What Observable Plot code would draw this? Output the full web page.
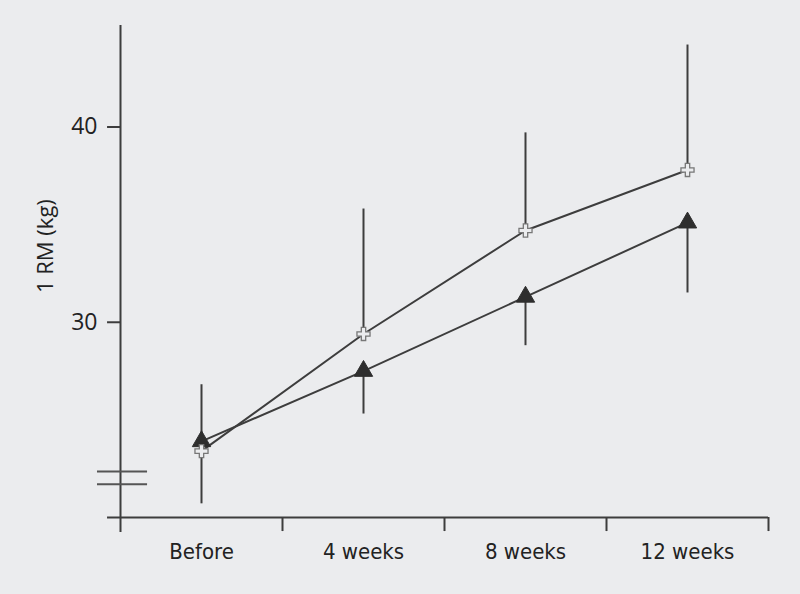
<!DOCTYPE html>
<html>
<head>
<meta charset="utf-8">
<script src="https://cdn.jsdelivr.net/npm/d3@7"></script>
<script src="https://cdn.jsdelivr.net/npm/@observablehq/plot@0.6"></script>
<style>
  html, body { margin: 0; padding: 0; background: #ebecee; }
  #chart svg { display: block; }
  .xlab text { font-stretch: condensed; }
</style>
</head>
<body>
<div id="chart"></div>
<script>
const categories = ["Before", "4 weeks", "8 weeks", "12 weeks"];
const crossMean = [23.4, 29.4, 34.7, 37.8];
const crossUpper = [26.8, 35.8, 39.7, 44.2];
const triMean = [23.9, 27.5, 31.3, 35.1];
const triLower = [20.7, 25.3, 28.8, 31.5];
const yTicks = [30, 40];

const cross = categories.map((c, i) => ({x: i + 0.5, y: crossMean[i], e: crossUpper[i]}));
const tri = categories.map((c, i) => ({x: i + 0.5, y: triMean[i], e: triLower[i]}));
const labels = categories.map((c, i) => ({x: i + 0.5, label: c}));
const bounds = d3.range(categories.length + 1);

const ink = "#3d3d3d";
const chart = Plot.plot({
  width: 800,
  height: 594,
  marginLeft: 120,
  marginRight: 32,
  marginTop: 25,
  marginBottom: 77,
  style: {background: "#ebecee", overflow: "visible"},
  x: {type: "linear", domain: [0, 4], axis: null},
  y: {type: "linear", domain: [20, 45.2], axis: null},
  marks: [
    // axes
    Plot.ruleX([0], {x: d => d, y1: 19.23, y2: 45.2, stroke: ink, strokeWidth: 2}),
    Plot.ruleY([20], {y: d => d, x1: -0.08, x2: 4, stroke: ink, strokeWidth: 2}),
    Plot.ruleY(yTicks, {y: d => d, x1: -0.08, x2: 0, stroke: ink, strokeWidth: 2}),
    Plot.ruleX(bounds.slice(1), {x: d => d, y1: 20, y2: 19.28, stroke: ink, strokeWidth: 2}),
    Plot.text(yTicks, {x: 0, y: d => d, text: d => String(d), dx: -23, textAnchor: "end", fontSize: 23, fill: "#222", fontFamily: "Open Sans"}),
    Plot.text(labels, {x: "x", y: 20, text: "label", dy: 34, fontSize: 22, fill: "#222", fontFamily: "'DejaVu Sans Condensed', 'Liberation Sans Narrow', 'DejaVu Sans', sans-serif", className: "xlab"}),
    Plot.text(["1 RM (kg)"], {x: 0, y: 33.9, text: d => d, dx: -75, rotate: -90, fontSize: 22, fill: "#222", fontFamily: "Open Sans"}),
    // axis break marks
    Plot.ruleY([22.35, 21.7], {y: d => d, x1: -0.142, x2: 0.167, stroke: "#555", strokeWidth: 2}),
    // error bars
    Plot.ruleX(cross, {x: "x", y1: "y", y2: "e", stroke: ink, strokeWidth: 2}),
    Plot.ruleX(tri, {x: "x", y1: "y", y2: "e", stroke: ink, strokeWidth: 2}),
    // lines
    Plot.line(cross, {x: "x", y: "y", stroke: ink, strokeWidth: 2}),
    Plot.line(tri, {x: "x", y: "y", stroke: ink, strokeWidth: 2}),
    // markers
    Plot.dot(tri, {x: "x", y: "y", symbol: "triangle", r: 6.8, fill: "#2e2e2e", stroke: "#2e2e2e", strokeWidth: 1}),
    Plot.dot(cross, {x: "x", y: "y", symbol: "cross", r: 5.5, fill: "#ebecee", stroke: "#777", strokeWidth: 1.3})
  ]
});
document.getElementById("chart").appendChild(chart);
</script>
</body>
</html>
